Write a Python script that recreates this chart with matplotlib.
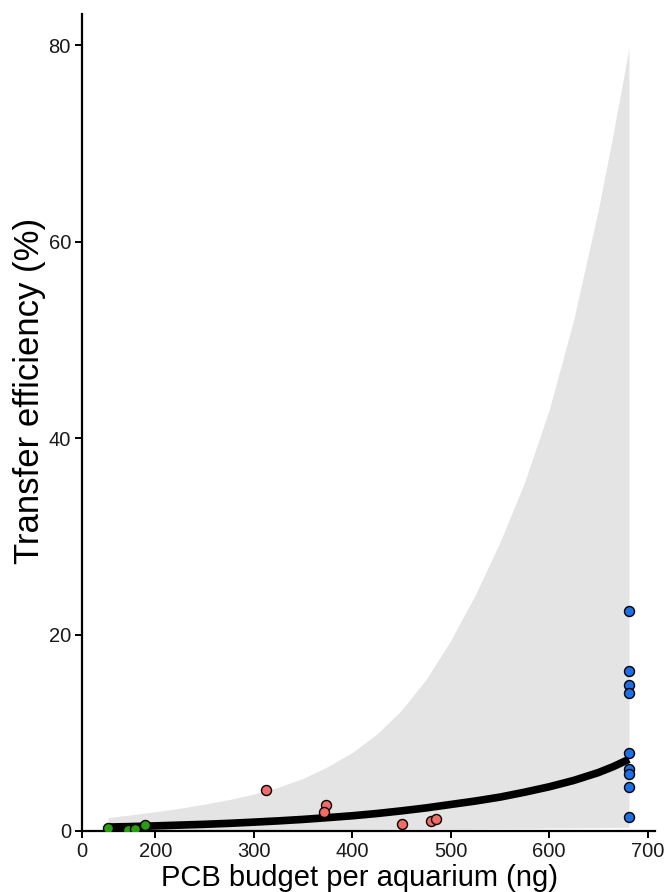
import numpy as np
import matplotlib
matplotlib.use("Agg")
from matplotlib import pyplot as plt

green_x = [152, 172, 179, 189]
green_y = [0.27, 0.10, 0.24, 0.60]

red_x = [312, 373, 371, 451, 480, 485]
red_y = [4.2, 2.6, 1.9, 0.7, 1.0, 1.2]

blue_x = [681] * 9
blue_y = [22.4, 16.3, 14.9, 14.1, 7.9, 6.3, 5.8, 4.45, 1.4]

# Fitted curve and its band, read at these budgets
fit_x = [152, 175, 200, 225, 250, 275, 300, 325, 350, 375, 400, 425, 450,
         475, 500, 525, 550, 575, 600, 625, 650, 665, 681]
fit_y = [0.40, 0.45, 0.52, 0.60, 0.68, 0.78, 0.90, 1.03, 1.18, 1.36, 1.55, 1.78, 2.05,
         2.35, 2.70, 3.05, 3.45, 3.95, 4.50, 5.15, 5.95, 6.55, 7.30]
band_hi = [1.37, 1.64, 1.96, 2.32, 2.73, 3.20, 3.76, 4.46, 5.35, 6.55, 8.00, 9.87, 12.3,
           15.44, 19.4, 24.05, 29.4, 35.5, 42.9, 52.1, 63.3, 71.0, 79.7]
band_lo = [0.10, 0.10, 0.11, 0.12, 0.13, 0.13, 0.14, 0.15, 0.16, 0.16, 0.17, 0.19, 0.20,
           0.21, 0.22, 0.23, 0.26, 0.27, 0.30, 0.32, 0.34, 0.36, 0.38]

x_ticks = [200, 300, 400, 500, 600, 700]
y_ticks = [0, 20, 40, 60, 80]
x_min, x_max = 125.5, 707.5
y_max = 83.2


def main():
    plt.rcParams['font.family'] = ['Liberation Sans', 'DejaVu Sans']

    fig = plt.figure(figsize=(6.65, 8.92), dpi=100)
    ax = fig.add_axes([0.1233, 0.0684, 0.8617, 0.9159])

    ax.fill_between(fit_x, band_lo, band_hi, color='#e4e4e4', lw=0, zorder=1)
    ax.plot(fit_x, fit_y, color='black', lw=5.5, solid_capstyle='butt', zorder=2)

    kw = dict(s=52, edgecolors='black', linewidths=1.0, zorder=3)
    ax.scatter(green_x, green_y, color='#2a9d12', **kw)
    ax.scatter(red_x, red_y, color='#f36b66', **kw)
    ax.scatter(blue_x, blue_y, color='#1c6fe6', **kw)

    ax.set_xlim(x_min, x_max)
    ax.set_ylim(0, y_max)
    # the left end of the x axis carries a "0" label in the original
    ax.set_xticks([x_min] + x_ticks)
    ax.set_xticklabels(['0'] + [str(t) for t in x_ticks])
    ax.set_yticks(y_ticks)

    for side in ['top', 'right']:
        ax.spines[side].set_visible(False)
    for side in ['left', 'bottom']:
        ax.spines[side].set_linewidth(1.6)
    ax.tick_params(width=1.4, length=5, labelsize=14.5, color='black', labelcolor='#1a1a1a', pad=3)

    ax.set_xlabel('PCB budget per aquarium (ng)', fontsize=21)
    ax.xaxis.set_label_coords(0.484, -0.040)
    ax.set_ylabel('Transfer efficiency (%)', fontsize=25)
    ax.yaxis.set_label_coords(-0.063, 0.5386)

    fig.savefig('out.png', dpi=100)


if __name__ == '__main__':
    main()
